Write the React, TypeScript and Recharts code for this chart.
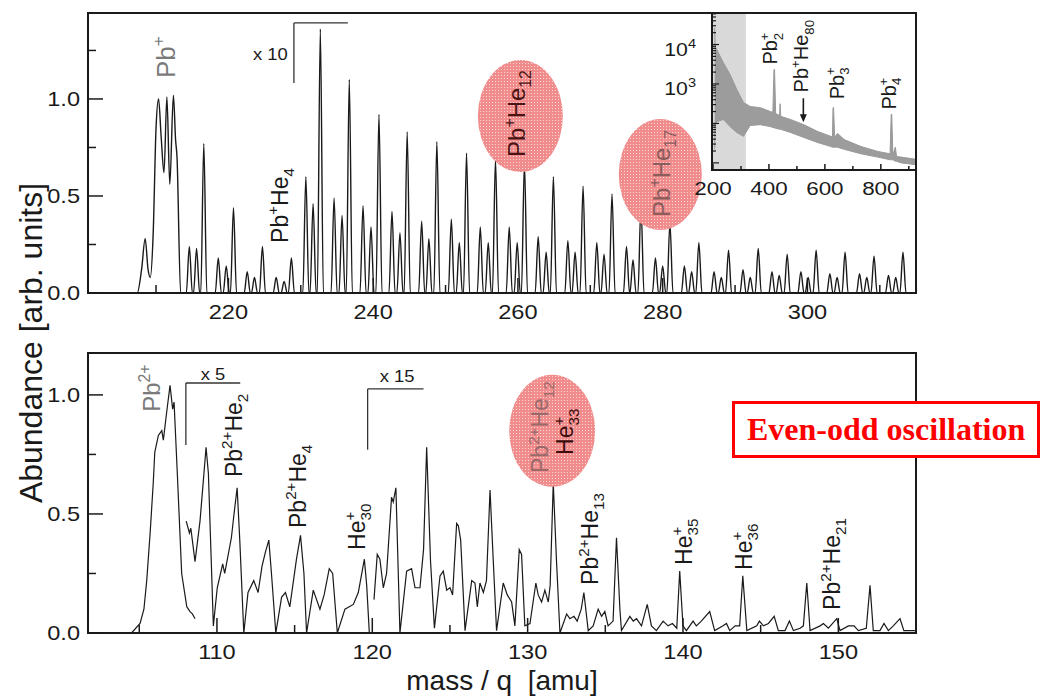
import React from "react";
import {
  LineChart,
  Line,
  ComposedChart,
  Area,
  XAxis,
  YAxis,
  ReferenceArea,
  ReferenceDot,
  ReferenceLine,
  Label,
} from "recharts";

// ---- top panel (Pb+ He_n), mass/q 200..315 ----
// isotope cluster of Pb+ read as a profile [mass, abundance]
const topCluster = [
  [207.4, 0], [208.0, 0.12], [208.5, 0.28], [208.9, 0.12], [209.2, 0.08], [209.6, 0.3],
  [210.0, 0.85], [210.35, 1.0], [210.7, 0.81], [211.1, 0.62], [211.5, 1.01], [211.9, 0.56],
  [212.4, 1.02], [212.7, 0.79], [212.9, 0.7], [213.4, 0],
];
// single peaks [mass, height]
const topPeaks = [
  [214.6, 0.24], [215.6, 0.23], [216.6, 0.77],
  [218.6, 0.18], [219.7, 0.14], [220.7, 0.44],
  [222.6, 0.11], [223.6, 0.08], [224.7, 0.24],
  [226.6, 0.08], [227.7, 0.06], [228.7, 0.18],
  [230.7, 0.6], [231.7, 0.46], [232.7, 1.36],
  [234.6, 0.49], [235.7, 0.4], [236.7, 1.1],
  [238.6, 0.45], [239.7, 0.34], [240.8, 0.92],
  [242.6, 0.42], [243.7, 0.31], [244.7, 0.83],
  [246.7, 0.37], [247.7, 0.28], [248.8, 0.78],
  [250.8, 0.38], [251.9, 0.26], [252.9, 0.72],
  [254.8, 0.34], [255.9, 0.26], [256.9, 0.69],
  [258.8, 0.34], [259.9, 0.26], [260.9, 0.67],
  [262.8, 0.29], [263.9, 0.21], [264.9, 0.6],
  [266.9, 0.27], [267.9, 0.21], [269.0, 0.55],
  [270.9, 0.26], [271.9, 0.2], [273.0, 0.51],
  [275.0, 0.24], [275.9, 0.17], [277.0, 0.45],
  [279.0, 0.18], [280.0, 0.14], [281.0, 0.36],
  [283.0, 0.14], [284.0, 0.11], [285.0, 0.26],
  [287.1, 0.11], [288.1, 0.08], [289.1, 0.22],
  [291.1, 0.12], [292.1, 0.08], [293.2, 0.23],
  [295.1, 0.11], [296.1, 0.09], [297.2, 0.2],
  [299.1, 0.11], [300.1, 0.08], [301.2, 0.22],
  [303.1, 0.1], [304.1, 0.08], [305.2, 0.21],
  [307.2, 0.1], [308.2, 0.08], [309.2, 0.19],
  [311.2, 0.09], [312.2, 0.08], [313.2, 0.21],
];
const topXTicks = [210, 220, 230, 240, 250, 260, 270, 280, 290, 300, 310];
const topXLabels = [220, 240, 260, 280, 300];
const topYTicks = [0, 0.25, 0.5, 0.75, 1.0, 1.25];
const yLabels = [0, 0.5, 1.0];

// ---- bottom panel (Pb2+ He_n and He_n+), mass/q 101.7..155 ----
const botRaw = [
  [101.7, 0], [104.5, 0], [105.05, 0.04], [105.3, 0.1], [105.48, 0.22], [105.7, 0.42],
  [105.9, 0.63], [106.0, 0.76], [106.23, 0.83], [106.45, 0.85], [106.55, 0.81], [106.75, 0.92],
  [106.98, 1.04], [107.15, 0.94], [107.24, 0.97], [107.45, 0.67], [107.73, 0.25], [108.06, 0.11],
  [108.27, 0.09], [108.42, 0.08], [108.59, 0.06],
];
const botTimes5 = [
  [108.02, 0.47], [108.23, 0.42], [108.32, 0.44], [108.59, 0.3], [108.91, 0.47], [109.1, 0.62],
  [109.3, 0.78], [109.45, 0.67], [109.77, 0.03], [110.02, 0.19], [110.37, 0.29], [110.5, 0.25],
  [110.93, 0.4], [111.1, 0.5], [111.3, 0.61], [111.47, 0.39], [111.73, 0], [112.0, 0.17],
  [112.37, 0.22], [112.65, 0.17], [112.9, 0.28], [113.12, 0.34], [113.34, 0.39], [113.51, 0.25],
  [113.79, 0], [114.16, 0.15], [114.41, 0.17], [114.69, 0.11], [115.12, 0.31], [115.38, 0.41],
  [115.6, 0.25], [115.77, 0], [116.2, 0.18], [116.63, 0.1], [116.9, 0.16], [117.23, 0.27],
  [117.45, 0.25], [117.75, 0], [118.24, 0.1], [118.78, 0.12], [119.1, 0.17], [119.49, 0.31],
  [119.64, 0.2], [119.81, 0],
];
const botTimes15 = [
  [120.11, 0.14], [120.32, 0.33], [120.49, 0.31], [120.71, 0.19], [120.92, 0.25], [121.24, 0.57],
  [121.35, 0.55], [121.52, 0.61], [121.78, 0], [122.21, 0.26], [122.53, 0.27], [122.75, 0.19],
  [123.07, 0.19], [123.3, 0.35], [123.5, 0.78], [123.75, 0.3], [124.0, 0.02], [124.36, 0.24],
  [124.57, 0.26], [124.79, 0.18], [125.0, 0.19], [125.17, 0.16], [125.43, 0.46], [125.54, 0.45],
  [125.69, 0.39], [125.97, 0.01], [126.4, 0.22], [126.61, 0.21], [126.76, 0.11], [126.93, 0.21],
  [127.15, 0.17], [127.35, 0.22], [127.58, 0.6], [127.79, 0.3], [128.0, 0.01], [128.43, 0.21],
  [128.69, 0.16], [128.97, 0.13], [129.18, 0.03], [129.46, 0.35], [129.61, 0.33], [129.82, 0.03],
  [130.15, 0.04], [130.53, 0.21], [130.68, 0.16], [130.9, 0.13], [131.11, 0.18], [131.33, 0.13],
  [131.45, 0.2], [131.65, 0.63], [131.86, 0.3], [132.08, 0], [132.51, 0.08], [132.72, 0.06],
  [132.98, 0.07], [133.19, 0.05], [133.45, 0.1], [133.62, 0.17], [133.9, 0.01], [134.22, 0.03],
  [134.54, 0.1], [134.76, 0.07], [134.97, 0.09], [135.18, 0.03], [135.5, 0.05], [135.72, 0.4],
  [135.94, 0.1], [136.04, 0.01], [136.58, 0.07], [136.8, 0.05], [137.01, 0.06], [137.33, 0.03],
  [137.7, 0.12], [137.97, 0.03], [138.29, 0.01], [138.72, 0.05], [139.04, 0.03], [139.32, 0.04],
  [139.6, 0.02], [139.79, 0.26], [140.0, 0.03], [140.22, 0.01], [140.65, 0.05], [140.86, 0.03],
  [141.18, 0.05], [141.72, 0.09], [142.04, 0.01], [142.58, 0.03], [142.8, 0.04], [143.01, 0.01],
  [143.36, 0.03], [143.65, 0.03], [143.85, 0.24], [144.11, 0.01], [144.75, 0.03], [144.92, 0.05],
  [145.18, 0.03], [145.5, 0.04], [145.87, 0.07], [146.14, 0.01], [146.57, 0.01], [146.85, 0.05],
  [147.11, 0.01], [147.54, 0.02], [147.75, 0.03], [147.97, 0.21], [148.18, 0.01], [148.83, 0.03],
  [149.04, 0.04], [149.36, 0.02], [149.9, 0.06], [150.11, 0.01], [150.65, 0.03], [151.01, 0.03],
  [151.29, 0.01], [151.8, 0.02], [152.04, 0.2], [152.25, 0.01], [152.68, 0.01], [152.94, 0.04],
  [153.22, 0.01], [153.54, 0.03], [153.97, 0.06], [154.22, 0.01], [154.93, 0.01],
];
const botXTicks = [105, 110, 115, 120, 125, 130, 135, 140, 145, 150];
const botXLabels = [110, 120, 130, 140, 150];
const botYTicks = [0, 0.25, 0.5, 0.75, 1.0];

// ---- inset: full range, log counts [mass, low, high] of the noisy trace ----
const insetTrace = [
  [206, 22, 26900], [208, 100, 8900], [215, 112, 7080], [237, 126, 3470], [261, 83, 1740],
  [285, 59, 724], [309, 47, 339], [333, 89, 269], [369, 93, 251], [405, 83, 200],
  [414, 79, 191], [418, 79, 2340], [420, 76, 2340], [424, 76, 178], [438, 71, 158],
  [440, 71, 316], [442, 71, 151], [477, 59, 126], [525, 44, 93], [573, 33, 63],
  [621, 26, 47], [627, 25, 46], [629, 25, 251], [631, 25, 251], [635, 25, 44],
  [645, 25, 56], [669, 22, 39], [729, 17, 26], [789, 14, 19.5], [833, 12, 17],
  [837, 12, 170], [839, 12, 170], [843, 12, 16], [852, 11, 25], [856, 11, 14.5],
  [873, 10, 14], [926, 9, 12.3],
];
const insetXTicks = [200, 300, 400, 500, 600, 700, 800, 900];
const insetXLabels = [200, 400, 600, 800];
const insetYLabels = [1000, 10000];

const SANS = '"Liberation Sans", Arial, Helvetica, sans-serif';
const INK = "#1a1a1a";
const PEAK_HALF = 0.42;

const topLine = (() => {
  const pts: { m: number; v: number }[] = [{ m: 200.6, v: 0 }];
  topCluster.forEach(([m, v]) => pts.push({ m, v }));
  topPeaks.forEach(([m, h]) => {
    pts.push({ m: m - PEAK_HALF, v: 0 }, { m, v: h }, { m: m + PEAK_HALF, v: 0 });
  });
  pts.push({ m: 315, v: 0 });
  return pts.sort((a, b) => a.m - b.m);
})();
const toRows = (arr: number[][]) => arr.map(([m, v]) => ({ m, v }));
const insetRows = insetTrace.map(([m, lo, hi]) => ({ m, r: [lo, hi] }));

const insetYTicks: number[] = [];
[10, 100, 1000, 10000].forEach((d) => {
  for (let k = 1; k <= 9; k++) if (d * k < 63000) insetYTicks.push(d * k);
});

const xTick = (labels: number[], maj: number, min: number, fs: number, off: number) => (p: any) => {
  const v = p.payload.value;
  const isL = labels.includes(v);
  return (
    <g>
      <line x1={p.x} x2={p.x} y1={p.y} y2={p.y - (isL ? maj : min)} stroke={INK} strokeWidth={1.5} />
      {isL && (
        <text transform={`translate(${p.x},${p.y + off}) scale(1.18,1)`} textAnchor="middle" fontSize={fs} fill={INK} fontFamily={SANS}>
          {v}
        </text>
      )}
    </g>
  );
};

const yTick = (p: any) => {
  const v = p.payload.value;
  const isL = yLabels.includes(v);
  return (
    <g>
      <line x1={p.x} x2={p.x + (isL ? 15 : 8)} y1={p.y} y2={p.y} stroke={INK} strokeWidth={1.5} />
      {isL && (
        <text transform={`translate(${p.x - 8},${p.y + 7}) scale(1.18,1)`} textAnchor="end" fontSize={20} fill={INK} fontFamily={SANS}>
          {v.toFixed(1)}
        </text>
      )}
    </g>
  );
};

const logTick = (p: any) => {
  const v = p.payload.value;
  const exp = Math.log10(v);
  const decade = Math.abs(exp - Math.round(exp)) < 1e-6;
  return (
    <g>
      <line x1={p.x} x2={p.x + (decade ? 7 : 4)} y1={p.y} y2={p.y} stroke={INK} strokeWidth={1.2} />
      {insetYLabels.includes(v) && (
        <text transform={`translate(${p.x - 16},${p.y + 11}) scale(1.12,1)`} textAnchor="end" fontSize={19} fill={INK} fontFamily={SANS}>
          <tspan>10</tspan>
          <tspan dy={-8} fontSize={13}>{Math.round(exp)}</tspan>
        </text>
      )}
    </g>
  );
};

type Part = [string, string];
function RotText({ cx, cy, parts, size, color }: { cx: number; cy: number; parts: Part[]; size: number; color: string }) {
  let level = 0;
  let prevW = 0;
  const small = size * 0.66;
  const spans = parts.map(([t, k], i) => {
    const kind = k[0];
    const stacked = k.length > 1;
    const fs = kind === "n" ? size : small;
    const target = kind === "n" ? 0 : kind === "u" ? -0.42 * size : 0.26 * size;
    const dy = target - level;
    level = target;
    const dx = stacked ? -prevW : 0;
    prevW = t.length * 0.58 * fs;
    return (
      <tspan key={i} dx={dx || undefined} dy={dy || undefined} fontSize={fs}>
        {t}
      </tspan>
    );
  });
  return (
    <text transform={`translate(${cx},${cy}) rotate(-90)`} fill={color} fontFamily={SANS} fontSize={size}>
      {spans}
    </text>
  );
}
const rot = (parts: Part[], size: number, color = INK) => (p: any) => (
  <RotText cx={p.cx} cy={p.cy} parts={parts} size={size} color={color} />
);
const blob = (rx: number, ry: number, id: string) => (p: any) => (
  <g>
    <defs>
      <pattern id={id} width={3} height={3} patternUnits="userSpaceOnUse">
        <rect width={3} height={3} fill="#f08c8c" />
        <rect width={1} height={1} fill="#fbd6d6" />
      </pattern>
    </defs>
    <ellipse cx={p.cx} cy={p.cy} rx={rx} ry={ry} fill={`url(#${id})`} />
  </g>
);
const note = (text: string, anchor: "end" | "middle", fs = 16) => (p: any) => (
  <text transform={`translate(${p.cx},${p.cy}) scale(1.15,1)`} textAnchor={anchor} fontSize={fs} fill={INK} fontFamily={SANS}>
    {text}
  </text>
);
const arrow = (p: any) => (
  <g>
    <line x1={p.cx} x2={p.cx} y1={p.cy - 24} y2={p.cy - 6} stroke={INK} strokeWidth={1.6} />
    <path d={`M${p.cx - 3.5},${p.cy - 8} L${p.cx + 3.5},${p.cy - 8} L${p.cx},${p.cy} Z`} fill={INK} />
  </g>
);

const PB1: Part[] = [["Pb", "n"], ["+", "u"]];
const PB2: Part[] = [["Pb", "n"], ["2+", "u"]];
const pbHe = (n: string): Part[] => [["Pb", "n"], ["+", "u"], ["He", "n"], [n, "d"]];
const pb2He = (n: string): Part[] => [["Pb", "n"], ["2+", "u"], ["He", "n"], [n, "d"]];
const heN = (n: string): Part[] => [["He", "n"], ["+", "u"], [n, "d<"]];
const pbN = (n: string): Part[] => [["Pb", "n"], [n, "d"], ["+", "u<"]];

const seg = { stroke: "#333", strokeWidth: 1.3 };

export default function App() {
  return (
    <div style={{ position: "absolute", left: 0, top: 0, width: 1047, height: 697, background: "#fff", overflow: "hidden" }}>
      {/* upper panel */}
      <div style={{ position: "absolute", left: 0, top: 0 }}>
        <LineChart width={1047} height={330} data={topLine} margin={{ top: 13, right: 131, bottom: 0, left: 0 }}>
          <XAxis dataKey="m" type="number" domain={[200.6, 315]} allowDataOverflow ticks={topXTicks} interval={0}
            height={37} tickSize={0} tickMargin={0} axisLine={false} tickLine={false} tick={xTick(topXLabels, 15, 8, 20, 26)} />
          <YAxis type="number" domain={[0, 1.443]} allowDataOverflow ticks={topYTicks} interval={0}
            width={88} tickSize={0} tickMargin={0} axisLine={false} tickLine={false} tick={yTick} />
          <Line dataKey="v" type="monotone" stroke={INK} strokeWidth={1.4} dot={false} isAnimationActive={false} />
          <ReferenceLine segment={[{ x: 229.05, y: 1.082 }, { x: 229.05, y: 1.392 }]} {...seg} />
          <ReferenceLine segment={[{ x: 229.05, y: 1.392 }, { x: 236.5, y: 1.392 }]} {...seg} />
          <ReferenceDot x={228.2} y={1.201} r={0} shape={note("x 10", "end")} zIndex={700} />
          <ReferenceDot x={212.6} y={1.108} r={0} shape={rot(PB1, 26, "#7a7a7a")} zIndex={700} />
          <ReferenceDot x={228.2} y={0.258} r={0} shape={rot(pbHe("4"), 23)} zIndex={700} />
          <ReferenceDot x={260.34} y={0.912} r={0} shape={blob(42.5, 56, "pinkTop1")} zIndex={800} />
          <ReferenceDot x={279.67} y={0.611} r={0} shape={blob(41.5, 55.5, "pinkTop2")} zIndex={800} />
          <ReferenceDot x={260.96} y={0.701} r={0} shape={rot(pbHe("12"), 24, "#4a1414")} zIndex={900} />
          <ReferenceDot x={281.0} y={0.392} r={0} shape={rot(pbHe("17"), 24, "#8a5c5c")} zIndex={900} />
          <ReferenceArea x1={200.6} x2={315} y1={0} y2={1.443} fill="none" stroke={INK} strokeWidth={2} ifOverflow="visible" zIndex={1500} />
        </LineChart>
      </div>

      {/* inset */}
      <div style={{ position: "absolute", left: 712, top: 13, width: 204, height: 157, background: "#fff" }} />
      <div style={{ position: "absolute", left: 640, top: 0 }}>
        <ComposedChart width={290} height={210} data={insetRows} margin={{ top: 13, right: 14, bottom: 0, left: 0 }}>
          <XAxis dataKey="m" type="number" domain={[196.4, 925.7]} allowDataOverflow ticks={insetXTicks} interval={0}
            height={40} tickSize={0} tickMargin={0} axisLine={false} tickLine={false} tick={xTick(insetXLabels, 6, 4, 19, 25)} />
          <YAxis type="number" scale="log" domain={[6.6, 63000]} allowDataOverflow ticks={insetYTicks} interval={0}
            width={72} tickSize={0} tickMargin={0} axisLine={false} tickLine={false} tick={logTick} />
          <ReferenceArea x1={200} x2={317.5} y1={6.6} y2={63000} fill="#d9d9d9" fillOpacity={1} stroke="none" zIndex={-50} />
          <Area dataKey="r" type="linear" stroke="#999999" strokeWidth={1} fill="#9c9c9c" fillOpacity={1} dot={false} isAnimationActive={false} />
          <ReferenceDot x={430} y={3100} r={0} shape={rot(pbN("2"), 20)} zIndex={700} />
          <ReferenceDot x={541} y={610} r={0} shape={rot(pbHe("80"), 20)} zIndex={700} />
          <ReferenceDot x={667} y={410} r={0} shape={rot(pbN("3"), 20)} zIndex={700} />
          <ReferenceDot x={854} y={225} r={0} shape={rot(pbN("4"), 20)} zIndex={700} />
          <ReferenceDot x={523} y={107} r={0} shape={arrow} zIndex={700} />
          <ReferenceArea x1={196.4} x2={925.7} y1={6.6} y2={63000} fill="none" stroke={INK} strokeWidth={2} ifOverflow="visible" zIndex={1500} />
        </ComposedChart>
      </div>

      {/* lower panel */}
      <div style={{ position: "absolute", left: 0, top: 340 }}>
        <LineChart width={1047} height={357} margin={{ top: 13, right: 131, bottom: 0, left: 0 }}>
          <XAxis dataKey="m" type="number" domain={[101.7, 155]} allowDataOverflow ticks={botXTicks} interval={0}
            height={64} tickSize={0} tickMargin={0} axisLine={false} tickLine={false} tick={xTick(botXLabels, 15, 8, 20, 26)}>
            <Label
              content={(p: any) => (
                <text x={p.viewBox.x + p.viewBox.width / 2} y={p.viewBox.y + 57} textAnchor="middle" fontSize={28}
                  fill={INK} fontFamily={SANS} style={{ whiteSpace: "pre" }}>
                  {"mass / q  [amu]"}
                </text>
              )}
            />
          </XAxis>
          <YAxis type="number" domain={[0, 1.176]} allowDataOverflow ticks={botYTicks} interval={0}
            width={88} tickSize={0} tickMargin={0} axisLine={false} tickLine={false} tick={yTick} />
          <Line data={toRows(botRaw)} dataKey="v" type="linear" stroke={INK} strokeWidth={1.2} dot={false} isAnimationActive={false} />
          <Line data={toRows(botTimes5)} dataKey="v" type="linear" stroke={INK} strokeWidth={1.2} dot={false} isAnimationActive={false} />
          <Line data={toRows(botTimes15)} dataKey="v" type="linear" stroke={INK} strokeWidth={1.2} dot={false} isAnimationActive={false} />
          <ReferenceLine segment={[{ x: 108.0, y: 0.79 }, { x: 108.0, y: 1.05 }]} {...seg} />
          <ReferenceLine segment={[{ x: 108.0, y: 1.05 }, { x: 111.5, y: 1.05 }]} {...seg} />
          <ReferenceLine segment={[{ x: 119.7, y: 0.77 }, { x: 119.7, y: 1.025 }]} {...seg} />
          <ReferenceLine segment={[{ x: 119.7, y: 1.025 }, { x: 123.3, y: 1.025 }]} {...seg} />
          <ReferenceDot x={109.75} y={1.063} r={0} shape={note("x 5", "middle")} zIndex={700} />
          <ReferenceDot x={121.6} y={1.055} r={0} shape={note("x 15", "middle")} zIndex={700} />
          <ReferenceDot x={106.34} y={0.929} r={0} shape={rot(PB2, 24, "#7a7a7a")} zIndex={700} />
          <ReferenceDot x={111.6} y={0.655} r={0} shape={rot(pb2He("2"), 23)} zIndex={700} />
          <ReferenceDot x={115.74} y={0.441} r={0} shape={rot(pb2He("4"), 23)} zIndex={700} />
          <ReferenceDot x={119.54} y={0.349} r={0} shape={rot(heN("30"), 23)} zIndex={700} />
          <ReferenceDot x={134.54} y={0.202} r={0} shape={rot(pb2He("13"), 23)} zIndex={700} />
          <ReferenceDot x={140.57} y={0.286} r={0} shape={rot(heN("35"), 23)} zIndex={700} />
          <ReferenceDot x={144.44} y={0.265} r={0} shape={rot(heN("36"), 23)} zIndex={700} />
          <ReferenceDot x={150.12} y={0.097} r={0} shape={rot(pb2He("21"), 23)} zIndex={700} />
          <ReferenceDot x={131.58} y={0.849} r={0} shape={blob(43, 56, "pinkBot")} zIndex={800} />
          <ReferenceDot x={131.34} y={0.672} r={0} shape={rot(pb2He("12"), 23, "#9a6a6a")} zIndex={900} />
          <ReferenceDot x={132.95} y={0.748} r={0} shape={rot(heN("33"), 23, "#3d0d0d")} zIndex={900} />
          <ReferenceArea x1={101.7} x2={155} y1={0} y2={1.176} fill="none" stroke={INK} strokeWidth={2} ifOverflow="visible" zIndex={1500} />
        </LineChart>
      </div>

      {/* shared y title */}
      <svg width={1047} height={697} style={{ position: "absolute", left: 0, top: 0, pointerEvents: "none" }}>
        <text transform="translate(42,343) rotate(-90)" textAnchor="middle" fontSize={32} fill={INK} fontFamily={SANS}>
          Abundance [arb. units]
        </text>
      </svg>

      <div
        style={{
          position: "absolute", left: 732, top: 401, width: 308, height: 57, boxSizing: "border-box",
          border: "3px solid #ff0000", background: "#fff", color: "#ff0000", fontFamily: '"Liberation Serif", "Times New Roman", serif',
          fontWeight: "bold", fontSize: 32, display: "flex", alignItems: "center", paddingLeft: 12, whiteSpace: "nowrap",
        }}
      >
        Even-odd oscillation
      </div>
    </div>
  );
}
